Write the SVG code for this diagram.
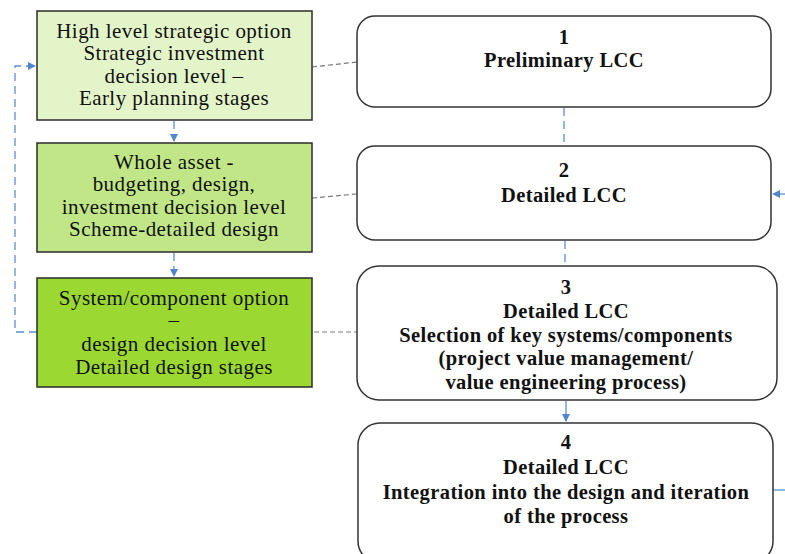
<svg xmlns="http://www.w3.org/2000/svg" width="785" height="554" viewBox="0 0 785 554">
<style>
.lbox{stroke:#2b2b2b;stroke-width:1.5}
.rbox{fill:#fff;stroke:#333;stroke-width:1.5}
.lt{font-family:"Liberation Serif","DejaVu Serif",serif;font-size:21px;letter-spacing:0.45px;fill:#111;text-anchor:middle}
.rt{font-family:"Liberation Serif","DejaVu Serif",serif;font-size:20.5px;letter-spacing:0.4px;font-weight:bold;fill:#111;text-anchor:middle}
.gray{stroke:#7a7a7a;stroke-width:1.2;stroke-dasharray:5,3;fill:none}
.blue{stroke:#5b8fd0;stroke-width:1.3;stroke-dasharray:8,5;fill:none}
.blues{stroke:#5b8fd0;stroke-width:1.3;fill:none}
</style>
<defs>
<marker id="ah" markerWidth="8" markerHeight="8" refX="7" refY="4" orient="auto" markerUnits="userSpaceOnUse">
<path d="M0,0 L8,4 L0,8 Z" fill="#4f86cc"/>
</marker>
</defs>
<rect width="785" height="554" fill="#fff"/>
<g id="connectors">
<path class="gray" d="M312,67 L357,62"/>
<path class="gray" d="M312,198 L357,194"/>
<path class="gray" d="M314,332 L359,332"/>
<path class="blue" d="M174,121 L174,141" marker-end="url(#ah)"/>
<path class="blue" d="M174,253 L174,276" marker-end="url(#ah)"/>
<path class="blue" d="M37,332 L15,332 L15,66 L35,66" marker-end="url(#ah)"/>
<path class="blue" d="M564,108 L564,146"/>
<path class="blue" d="M565,241 L565,266"/>
<path class="blues" d="M566,401 L566,421" marker-end="url(#ah)"/>
<path class="blues" d="M773,490 L785,490"/>
<path class="blue" d="M785,194 L773,194" marker-end="url(#ah)"/>
</g>
<g id="nodeA">
<rect class="lbox" x="37" y="11" width="275" height="109" fill="#e3f4c9"/>
<text class="lt" x="174" y="38">High level strategic option</text>
<text class="lt" x="174" y="60">Strategic investment</text>
<text class="lt" x="174" y="83">decision level –</text>
<text class="lt" x="174" y="105">Early planning stages</text>
</g>
<g id="nodeB">
<rect class="lbox" x="37" y="143" width="275" height="109" fill="#c1e687"/>
<text class="lt" x="174" y="169">Whole asset -</text>
<text class="lt" x="174" y="191">budgeting, design,</text>
<text class="lt" x="174" y="214">investment decision level</text>
<text class="lt" x="174" y="236">Scheme-detailed design</text>
</g>
<g id="nodeC">
<rect class="lbox" x="37" y="278" width="275" height="109" fill="#9bd932"/>
<text class="lt" x="174" y="305">System/component option</text>
<text class="lt" x="174" y="327">–</text>
<text class="lt" x="174" y="351">design decision level</text>
<text class="lt" x="174" y="374">Detailed design stages</text>
</g>
<g id="node1">
<rect class="rbox" x="357" y="16" width="414" height="91" rx="18"/>
<text class="rt" x="564" y="44">1</text>
<text class="rt" x="564" y="67">Preliminary LCC</text>
</g>
<g id="node2">
<rect class="rbox" x="357" y="146" width="414" height="94" rx="18"/>
<text class="rt" x="564" y="177">2</text>
<text class="rt" x="564" y="202">Detailed LCC</text>
</g>
<g id="node3">
<rect class="rbox" x="357" y="266" width="420" height="134" rx="22"/>
<text class="rt" x="566" y="294">3</text>
<text class="rt" x="566" y="318">Detailed LCC</text>
<text class="rt" x="566" y="342">Selection of key systems/components</text>
<text class="rt" x="566" y="365">(project value management/</text>
<text class="rt" x="566" y="389">value engineering process)</text>
</g>
<g id="node4">
<rect class="rbox" x="358" y="423" width="415" height="140" rx="22"/>
<text class="rt" x="566" y="449">4</text>
<text class="rt" x="566" y="474">Detailed LCC</text>
<text class="rt" x="566" y="499">Integration into the design and iteration</text>
<text class="rt" x="566" y="523">of the process</text>
</g>
</svg>
